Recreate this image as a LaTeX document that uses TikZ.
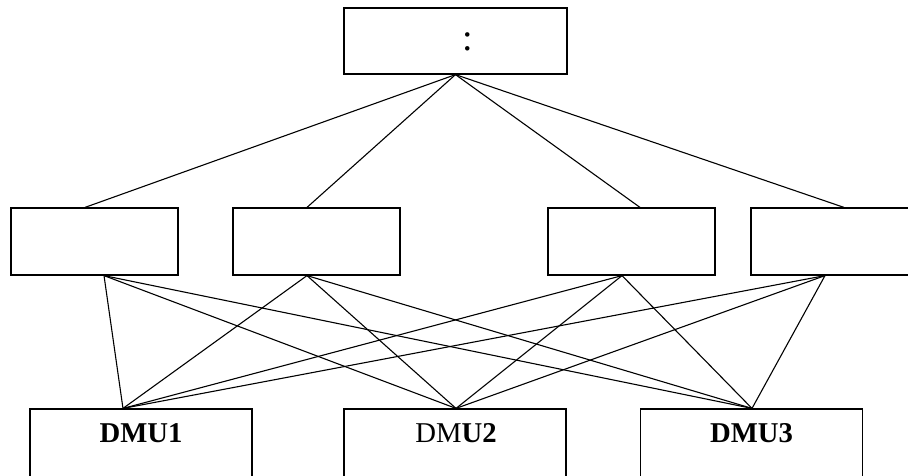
\documentclass[tikz,border=0pt]{standalone}
\usepackage{fontspec}
\setmainfont{Liberation Serif}
\usetikzlibrary{positioning,calc}

\tikzset{
  box/.style={draw, line width=1.2pt, minimum width=167pt, minimum height=67pt, inner sep=0pt},
  link/.style={line width=1.1pt},
  dmulabel/.style={font=\fontsize{28.7}{30}\selectfont}
}

\begin{document}
\begin{tikzpicture}[x=1pt,y=-1pt]
\useasboundingbox (0,0) rectangle (908,475);
\clip (0,0) rectangle (908,475);

% Goal box
\node[box, minimum width=223pt, minimum height=66pt] (goal) at (455.5,41) {};
\node[font=\fontsize{38}{40}\selectfont] (colon) at (468,42) {:};

% Criteria boxes
\node[box] (crA) at (94.5,241.5) {};
\node[box] (crB) at (316.5,241.5) {};
\node[box] (crC) at (631.5,241.5) {};
\node[box] (crD) at (834.5,241.5) {};

% DMU boxes
\node[box, minimum width=222pt, minimum height=120pt] (dmuA) at (141,469) {};
\node[box, minimum width=222pt, minimum height=120pt] (dmuB) at (455,469) {};
\node[box, minimum width=222pt, minimum height=120pt] (dmuC) at (751.5,469) {};
\node[dmulabel] (dmuAtext) at (141,433.5) {\textbf{DMU1}};
\node[dmulabel] (dmuBtext) at (456,433.5) {DM\textbf{U2}};
\node[dmulabel] (dmuCtext) at (751.5,433.5) {\textbf{DMU3}};

% Goal to criteria
\foreach \c/\dx in {crA/-9.5, crB/-9.5, crC/8.5, crD/9.5}
  \draw[link] (goal.south) -- ([xshift=\dx pt]\c.north);

% Criteria to DMUs
\foreach \c/\dx in {crA/9.5, crB/-9.5, crC/-9.5, crD/-9.5}
  \foreach \d/\dy in {dmuA/-18, dmuB/1, dmuC/0.5}
    \draw[link] ([xshift=\dx pt]\c.south) -- ([xshift=\dy pt]\d.north);

\end{tikzpicture}
\end{document}
